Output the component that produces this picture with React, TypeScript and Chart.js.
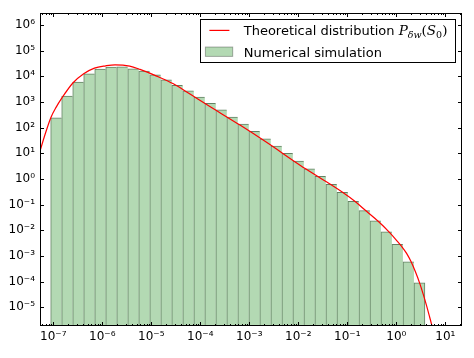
import React, { useEffect, useRef } from 'react';
import { Chart, registerables } from 'chart.js';

Chart.register(...registerables);

// ---- data ----
// histogram bin centres (S0, log-spaced bins)
const binCenters = [
  1.146e-7, 1.923e-7, 3.228e-7, 5.408e-7, 9.078e-7, 1.521e-6, 2.553e-6, 4.285e-6, 7.178e-6,
  1.205e-5, 2.023e-5, 3.388e-5, 5.689e-5, 9.55e-5, 1.6e-4, 2.685e-4, 4.498e-4, 7.551e-4,
  1.268e-3, 2.123e-3, 3.565e-3, 5.984e-3, 1.002e-2, 1.683e-2, 2.818e-2, 4.732e-2, 7.943e-2,
  0.133, 0.2234, 0.375, 0.6281, 1.054, 1.77, 2.965,
];
// numerical simulation (histogram heights)
const binValues = [
  2.44e2, 1.71e3, 6.0e3, 1.26e4, 1.93e4, 2.31e4, 2.35e4, 1.97e4, 1.62e4,
  1.14e4, 7.3e3, 4.5e3, 2.72e3, 1.56e3, 8.9e2, 4.9e2, 2.6e2, 1.39e2,
  72, 37, 19.3, 10.0, 5.0, 2.5, 1.26, 0.62, 0.3,
  0.133, 0.058, 0.0236, 0.0088, 0.00284, 5.96e-4, 8.9e-5,
];
// theoretical distribution curve
const curveS = [
  5.01e-8, 6.92e-8, 8.91e-8, 1.148e-7, 1.479e-7, 2.51e-7, 4.17e-7, 6.92e-7, 1.175e-6, 1.82e-6,
  3.63e-6, 5.89e-6, 1.288e-5, 2.82e-5, 6.17e-5, 1.349e-4, 6.46e-4, 2.29e-3, 1.122e-2, 2.75e-2,
  8.13e-2, 0.1445, 0.24, 0.427, 0.741, 1.0, 1.288, 1.622, 1.995, 2.455,
  3.02, 3.548, 4.169, 4.786, 5.248, 6.31,
];
const curveP = [
  7.94, 60.3, 245, 631, 1380, 5500, 12590, 20890, 25700, 28180,
  25120, 18620, 10230, 5130, 2040, 794, 126, 26.3, 3.31, 1.12,
  0.295, 0.1318, 0.0575, 0.0224, 7.94e-3, 4.17e-3, 2.34e-3, 1.26e-3, 6.03e-4, 2.4e-4,
  8.32e-5, 3.16e-5, 1.1e-5, 4.17e-6, 2.14e-6, 5.0e-7,
];

const xTickExponents = [-7, -6, -5, -4, -3, -2, -1, 0, 1];
const yTickExponents = [-5, -4, -3, -2, -1, 0, 1, 2, 3, 4, 5, 6];
const X_MIN = 5.36e-8;
const X_MAX = 21.9;
const Y_MIN = 1.86e-6;
const Y_MAX = 2.94e6;

const LINE_LABEL = 'Theoretical distribution P_δw(S_0)';
const BAR_LABEL = 'Numerical simulation';
const LEGEND_PREFIX = 'Theoretical distribution ';
// math part of the legend label: [text, isSubscript, isItalic]
const LEGEND_MATH: [string, boolean, boolean][] = [
  ['P', false, true],
  ['δw', true, true],
  ['(', false, false],
  ['S', false, true],
  ['0', true, false],
  [')', false, false],
];

const BAR_FILL = 'rgb(179,217,179)';
const BAR_EDGE = 'rgb(100,130,100)';
const LINE_COLOR = 'rgb(255,0,0)';
const FONT = "'DejaVu Sans'";

const SUP: Record<string, string> = {
  '-': '⁻', '0': '⁰', '1': '¹', '2': '²', '3': '³', '4': '⁴',
  '5': '⁵', '6': '⁶', '7': '⁷', '8': '⁸', '9': '⁹',
};
const powLabel = (v: number) => {
  const e = Math.round(Math.log10(v));
  return '10' + String(e).split('').map((c) => SUP[c] || c).join('');
};

const frameTicksPlugin = {
  id: 'frameTicks',
  afterDatasetsDraw(chart: any) {
    const { ctx, chartArea: a, scales } = chart;
    const xs = scales.x;
    const ys = scales.y;
    ctx.save();
    ctx.strokeStyle = '#000';
    ctx.lineWidth = 1;
    ctx.beginPath();
    for (const e of xTickExponents) {
      const p = Math.round(xs.getPixelForValue(Math.pow(10, e))) + 0.5;
      ctx.moveTo(p, a.bottom);
      ctx.lineTo(p, a.bottom - 4);
      ctx.moveTo(p, a.top);
      ctx.lineTo(p, a.top + 4);
    }
    for (let e = xTickExponents[0] - 1; e <= xTickExponents[xTickExponents.length - 1]; e++) {
      for (let m = 2; m <= 9; m++) {
        const v = m * Math.pow(10, e);
        if (v <= xs.min || v >= xs.max) continue;
        const p = Math.round(xs.getPixelForValue(v)) + 0.5;
        ctx.moveTo(p, a.bottom);
        ctx.lineTo(p, a.bottom - 2);
        ctx.moveTo(p, a.top);
        ctx.lineTo(p, a.top + 2);
      }
    }
    for (const e of yTickExponents) {
      const p = Math.round(ys.getPixelForValue(Math.pow(10, e))) + 0.5;
      ctx.moveTo(a.left, p);
      ctx.lineTo(a.left + 4, p);
      ctx.moveTo(a.right, p);
      ctx.lineTo(a.right - 4, p);
    }
    ctx.stroke();
    ctx.strokeRect(a.left + 0.5, a.top + 0.5, a.right - a.left - 1, a.bottom - a.top - 1);
    ctx.restore();
  },
};

const legendPlugin = {
  id: 'mplLegend',
  afterDraw(chart: any) {
    const { ctx, chartArea: a } = chart;
    const mainFont = `13px ${FONT}`;
    const mathFont = (sub: boolean, it: boolean) =>
      `${it ? 'italic ' : ''}${sub ? 9.5 : 13.5}px 'DejaVu Serif'`;
    ctx.save();
    ctx.font = mainFont;
    const prefixW = ctx.measureText(LEGEND_PREFIX).width;
    let mathW = 0;
    for (const [t, sub, it] of LEGEND_MATH) {
      ctx.font = mathFont(sub, it);
      mathW += ctx.measureText(t).width;
    }
    ctx.font = mainFont;
    const barW = ctx.measureText(BAR_LABEL).width;
    const textW = Math.max(prefixW + mathW, barW);
    const boxW = Math.round(43.7 + textW + 7.6);
    const right = Math.round(a.right - 7.5);
    const left = right - boxW;
    const top = Math.round(a.top + 6.3);
    const h = 43;
    ctx.fillStyle = '#fff';
    ctx.fillRect(left, top, boxW, h);
    ctx.strokeStyle = '#000';
    ctx.lineWidth = 1;
    ctx.strokeRect(left + 0.5, top + 0.5, boxW, h);

    const row1 = top + 11.4;
    const row2 = top + 32.7;
    // line handle
    ctx.strokeStyle = LINE_COLOR;
    ctx.lineWidth = 1.2;
    ctx.beginPath();
    ctx.moveTo(left + 9.4, row1);
    ctx.lineTo(left + 29.4, row1);
    ctx.stroke();
    // patch handle
    ctx.fillStyle = BAR_FILL;
    ctx.fillRect(left + 5.4, row2 - 4.7, 27.3, 9.4);
    ctx.strokeStyle = 'rgba(0,0,0,0.3)';
    ctx.lineWidth = 1;
    ctx.strokeRect(left + 5.4, row2 - 4.7, 27.3, 9.4);

    // texts
    ctx.fillStyle = '#000';
    ctx.textBaseline = 'alphabetic';
    ctx.textAlign = 'left';
    const tx = left + 43.7;
    const base1 = row1 + 5;
    const base2 = row2 + 5;
    ctx.font = mainFont;
    ctx.fillText(LEGEND_PREFIX, tx, base1);
    let x = tx + prefixW;
    for (const [t, sub, it] of LEGEND_MATH) {
      ctx.font = mathFont(sub, it);
      ctx.fillText(t, x, base1 + (sub ? 3 : 0));
      x += ctx.measureText(t).width;
    }
    ctx.font = mainFont;
    ctx.fillText(BAR_LABEL, tx, base2);
    ctx.restore();
  },
};

export default function App() {
  const ref = useRef<HTMLCanvasElement | null>(null);
  useEffect(() => {
    if (!ref.current) return;
    Chart.defaults.font.family = FONT;
    const lastIdx = binValues.length - 1;
    const chart = new Chart(ref.current, {
      type: 'bar',
      data: {
        datasets: [
          {
            type: 'line',
            label: LINE_LABEL,
            data: curveS.map((s, i) => ({ x: s, y: curveP[i] })),
            borderColor: LINE_COLOR,
            borderWidth: 1.2,
            pointRadius: 0,
            fill: false,
            cubicInterpolationMode: 'monotone',
          } as any,
          {
            type: 'bar',
            label: BAR_LABEL,
            data: binCenters.map((s, i) => ({ x: s, y: binValues[i] })),
            backgroundColor: BAR_FILL,
            borderColor: BAR_EDGE,
            borderWidth: (c: any) => ({ left: 1, top: 1, right: c.dataIndex === lastIdx ? 1 : 0, bottom: 0 }),
            borderSkipped: false,
            barPercentage: 1,
            categoryPercentage: 1,
          } as any,
        ],
      },
      options: {
        animation: false,
        responsive: true,
        maintainAspectRatio: false,
        events: [],
        layout: { padding: { left: 0, top: 5, right: 4, bottom: 0 } },
        plugins: { legend: { display: false }, tooltip: { enabled: false } },
        scales: {
          x: {
            type: 'logarithmic',
            min: X_MIN,
            max: X_MAX,
            offset: false,
            grid: { display: false, drawTicks: false, offset: false },
            border: { display: false },
            ticks: {
              autoSkip: false,
              maxRotation: 0,
              padding: 4,
              color: '#000',
              font: { family: FONT, size: 12 },
              callback: (v: any) => powLabel(Number(v)),
            },
            afterBuildTicks: (s: any) => {
              s.ticks = xTickExponents.map((e) => ({ value: Math.pow(10, e) }));
            },
            afterFit: (s: any) => {
              s.height = 24;
              s.paddingLeft = 0;
              s.paddingRight = 0;
              s.paddingTop = 0;
              s.paddingBottom = 0;
            },
          },
          y: {
            type: 'logarithmic',
            min: Y_MIN,
            max: Y_MAX,
            grid: { display: false, drawTicks: false },
            border: { display: false },
            ticks: {
              autoSkip: false,
              padding: 5,
              color: '#000',
              font: { family: FONT, size: 12 },
              callback: (v: any) => powLabel(Number(v)),
            },
            afterBuildTicks: (s: any) => {
              s.ticks = yTickExponents.map((e) => ({ value: Math.pow(10, e) }));
            },
            afterFit: (s: any) => {
              s.width = 32;
              s.paddingLeft = 0;
              s.paddingRight = 0;
              s.paddingTop = 0;
              s.paddingBottom = 0;
            },
          },
        },
      } as any,
      plugins: [frameTicksPlugin, legendPlugin],
    });
    return () => chart.destroy();
  }, []);
  return (
    <div style={{ position: 'relative', width: 458, height: 342 }}>
      <canvas ref={ref} />
    </div>
  );
}
